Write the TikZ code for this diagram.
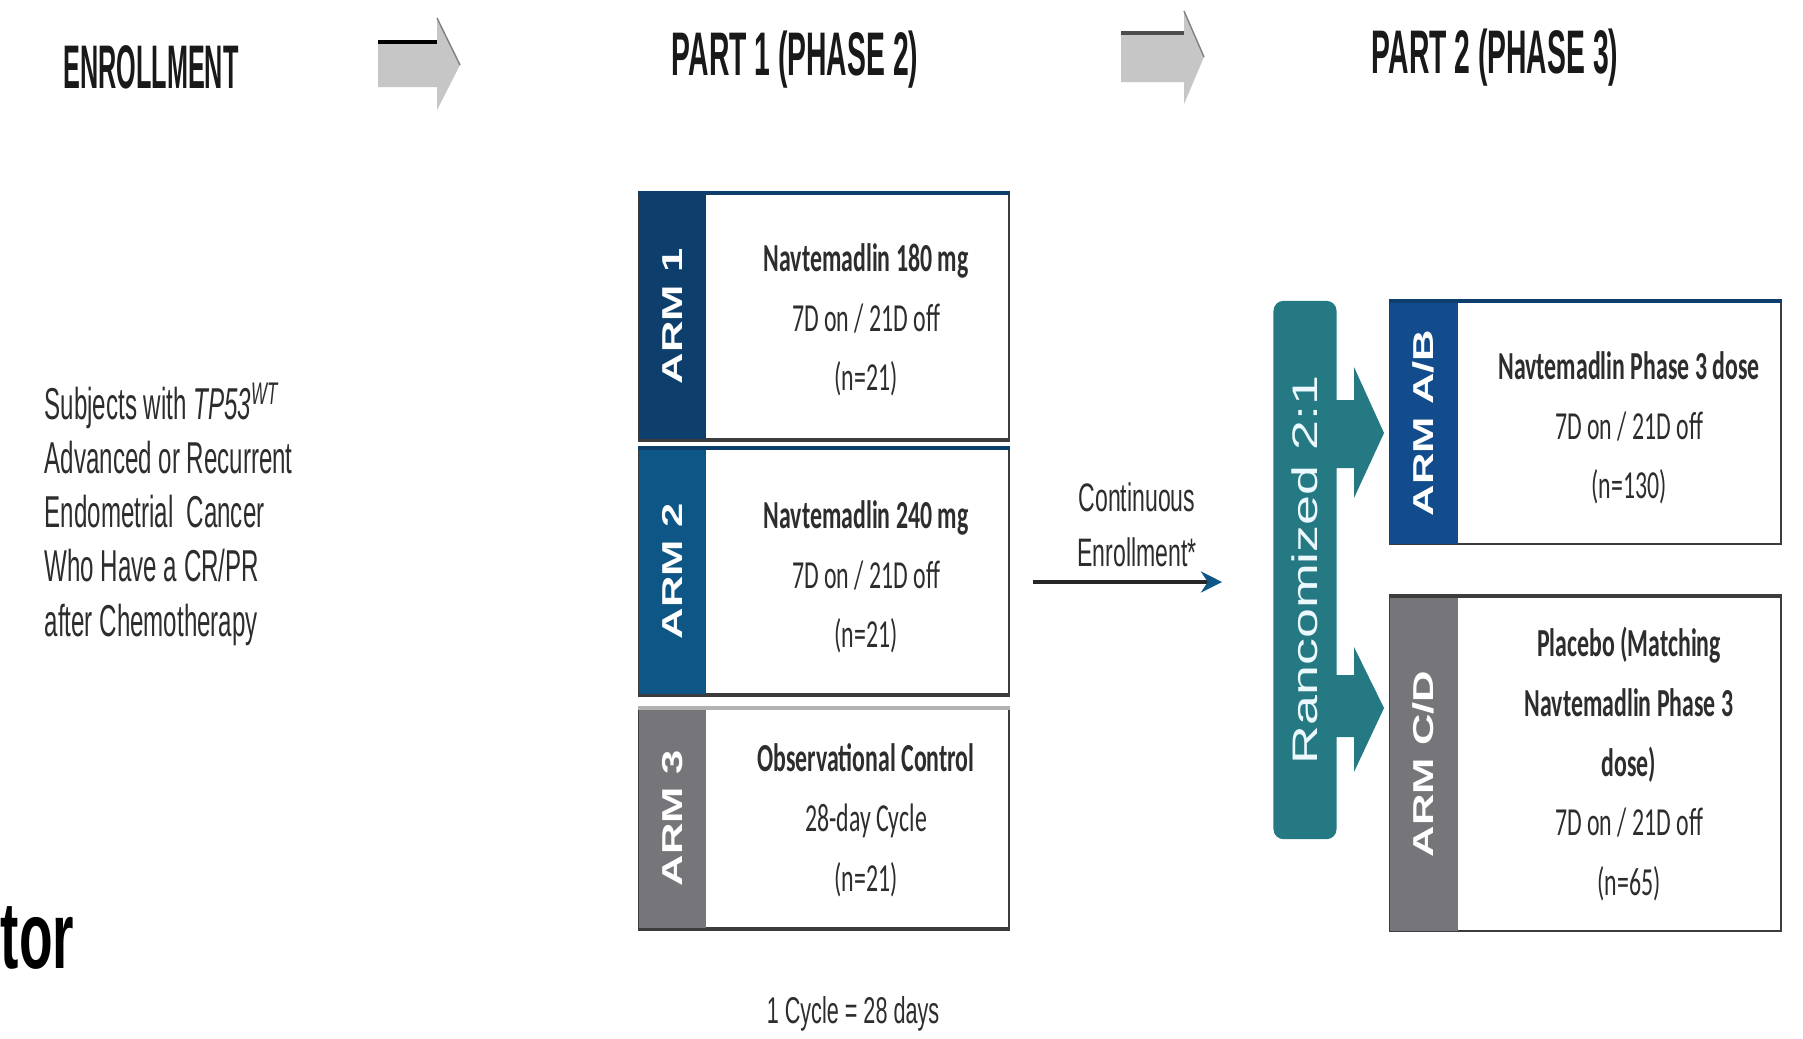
\documentclass[tikz,border=0pt]{standalone}
\usepackage{fontspec}
\usepackage{graphicx}
\usetikzlibrary{arrows.meta}
\newfontfamily\headfont{Liberation Sans}[FakeStretch=0.46]
\newfontfamily\enrolfont{Liberation Sans}[FakeStretch=0.41]
\newfontfamily\plainfont{Liberation Sans}[FakeStretch=0.58]
\newfontfamily\subjfont{Liberation Sans}[FakeStretch=0.54]
\newfontfamily\boxfont{Carlito}[FakeStretch=0.6]
\newfontfamily\armfont{Liberation Sans}
\definecolor{armnavy}{RGB}{14,62,108}
\definecolor{armblue}{RGB}{14,86,134}
\definecolor{armab}{RGB}{18,76,140}
\definecolor{armgray}{RGB}{118,118,122}
\definecolor{randteal}{RGB}{36,121,131}
\definecolor{boxline}{RGB}{60,60,60}
\definecolor{txtgray}{RGB}{45,45,45}
\definecolor{blockgray}{RGB}{198,198,198}
\newcommand{\squash}[1]{\scalebox{1}[0.66]{#1}}

\begin{document}
\begin{tikzpicture}[x=0.01cm, y=-0.01cm,
  heading/.style={font=\headfont\bfseries\fontsize{17.5}{20}\selectfont, text=black!90},
  armbox/.style={draw=boxline, line width=0.6pt, fill=white, anchor=north west, inner sep=0pt},
  armside/.style={anchor=north west, minimum width=0.67cm, inner sep=0pt},
  armlabel/.style={rotate=90, text=white, font=\armfont\bfseries\fontsize{12.4}{14}\selectfont},
  armtext/.style={align=center, text=txtgray, font=\boxfont\fontsize{11.3}{17}\selectfont},
  note/.style={text=txtgray, font=\plainfont\fontsize{11.3}{15.6}\selectfont}]
  \fill[white] (0,0) rectangle (1803,1038);
  \useasboundingbox (0,0) rectangle (1803,1038);

  \node[heading, font=\enrolfont\bfseries\fontsize{17.5}{20}\selectfont] (enrol) at (151,67) {ENROLLMENT};
  \node[heading] (part1) at (795,60) {PART 1 (PHASE 2)};
  \node[heading] (part2) at (1495,58) {PART 2 (PHASE 3)};

  \fill[blockgray] (378,42) -- (437,42) -- (437,18) -- (460,65) -- (437,110) -- (437,87) -- (378,87) -- cycle;
  \draw[black, line width=1.2pt] (378,42) -- (437,42);
  \draw[gray] (437,18) -- (460,65);
  \fill[blockgray] (1121,33) -- (1184,33) -- (1184,11) -- (1204,57) -- (1184,104) -- (1184,82) -- (1121,82) -- cycle;
  \draw[black!70, line width=1pt] (1121,33) -- (1184,33);
  \draw[gray] (1184,11) -- (1204,57);

  \node[note, anchor=west, align=left, inner sep=0pt, font=\subjfont\fontsize{12.7}{15.4}\selectfont] (subj) at (44,514)
    {Subjects with \textit{TP53}\textsuperscript{\textit{WT}}\\Advanced or Recurrent\\Endometrial\ \ Cancer\\Who Have a CR/PR\\after Chemotherapy};
  \node[anchor=base west, inner sep=0pt, text=black, font=\plainfont\bfseries\fontsize{27}{30}\selectfont] (tor) at (0,968) {tor};

  % part 1 arms
  \node[armbox, minimum width=3.70cm, minimum height=2.45cm] (b1) at (638,193) {};
  \node[armbox, minimum width=3.70cm, minimum height=2.45cm] (b2) at (638,448) {};
  \node[armbox, minimum width=3.70cm, minimum height=2.19cm] (b3) at (638,708) {};
  \node[armside, fill=armnavy, minimum height=2.45cm] (s1) at (638,193) {};
  \node[armside, fill=armblue, minimum height=2.45cm] (s2) at (638,448) {};
  \node[armside, fill=armgray, minimum height=2.19cm] (s3) at (638,708) {};
  \draw[armnavy, line width=1.3pt] (b1.north west) -- (b1.north east);
  \draw[armnavy, line width=1.3pt] (b2.north west) -- (b2.north east);
  \draw[gray!60, line width=1pt] (b3.north west) -- (b3.north east);
  \draw[boxline, line width=1pt] (b1.south west) -- (b1.south east);
  \draw[boxline, line width=1pt] (b2.south west) -- (b2.south east);
  \draw[boxline, line width=1pt] (b3.south west) -- (b3.south east);
  \node[armlabel] (l1) at (s1.center) {\squash{ARM 1}};
  \node[armlabel] (l2) at (s2.center) {\squash{ARM 2}};
  \node[armlabel] (l3) at (s3.center) {\squash{ARM 3}};
  \node[armtext] (t1) at (866,320) {\textbf{Navtemadlin 180 mg}\\7D on / 21D off\\(n=21)};
  \node[armtext] (t2) at (866,577) {\textbf{Navtemadlin 240 mg}\\7D on / 21D off\\(n=21)};
  \node[armtext] (t3) at (866,820) {\textbf{Observational Control}\\28-day Cycle\\(n=21)};
  \node[note, font=\plainfont\fontsize{10.6}{13}\selectfont] (cycle) at (853,1014) {1 Cycle = 28 days};

  % continuous enrollment
  \node[note, align=center] (cont) at (1137,525) {Continuous\\Enrollment*};
  \coordinate (ce1) at (1033,582);
  \coordinate (ce2) at (1222,582);
  \draw[black!85, line width=0.9pt, -{Stealth[length=6pt, width=6pt, color=armblue]}] (ce1) -- (ce2);

  % part 2 arms
  \fill[randteal] (1330,400) -- (1354,400) -- (1354,367) -- (1384,433) -- (1354,498) -- (1354,468) -- (1330,468) -- cycle;
  \fill[randteal] (1330,675) -- (1354,675) -- (1354,647) -- (1384,708) -- (1354,772) -- (1354,737) -- (1330,737) -- cycle;
  \node[fill=randteal, rounded corners=0.1cm, minimum width=0.63cm, minimum height=5.38cm, inner sep=0pt] (rand) at (1305,570) {};
  \node[rotate=90, text=white!92!cyan, font=\armfont\fontsize{15.3}{17}\selectfont] (randl) at (rand.center) {\squash{Rancomized 2:1}};

  \node[armbox, minimum width=3.91cm, minimum height=2.42cm] (ab) at (1389,301) {};
  \node[armbox, minimum width=3.91cm, minimum height=3.34cm] (cd) at (1389,596) {};
  \node[armside, fill=armab, minimum width=0.68cm, minimum height=2.42cm] (sab) at (1389,301) {};
  \node[armside, fill=armgray, minimum width=0.68cm, minimum height=3.34cm] (scd) at (1389,596) {};
  \draw[armnavy, line width=1.3pt] (ab.north west) -- (ab.north east);
  \draw[boxline, line width=1.3pt] (cd.north west) -- (cd.north east);
  \node[armlabel] (lab) at (sab.center) {\squash{ARM A/B}};
  \node[armlabel] (lcd) at (scd.center) {\squash{ARM C/D}};
  \node[armtext] (tab) at (1629,428) {\textbf{Navtemadlin Phase 3 dose}\\7D on / 21D off\\(n=130)};
  \node[armtext] (tcd) at (1629,764) {\textbf{Placebo (Matching}\\\textbf{Navtemadlin Phase 3}\\\textbf{dose)}\\7D on / 21D off\\(n=65)};
\end{tikzpicture}
\end{document}
